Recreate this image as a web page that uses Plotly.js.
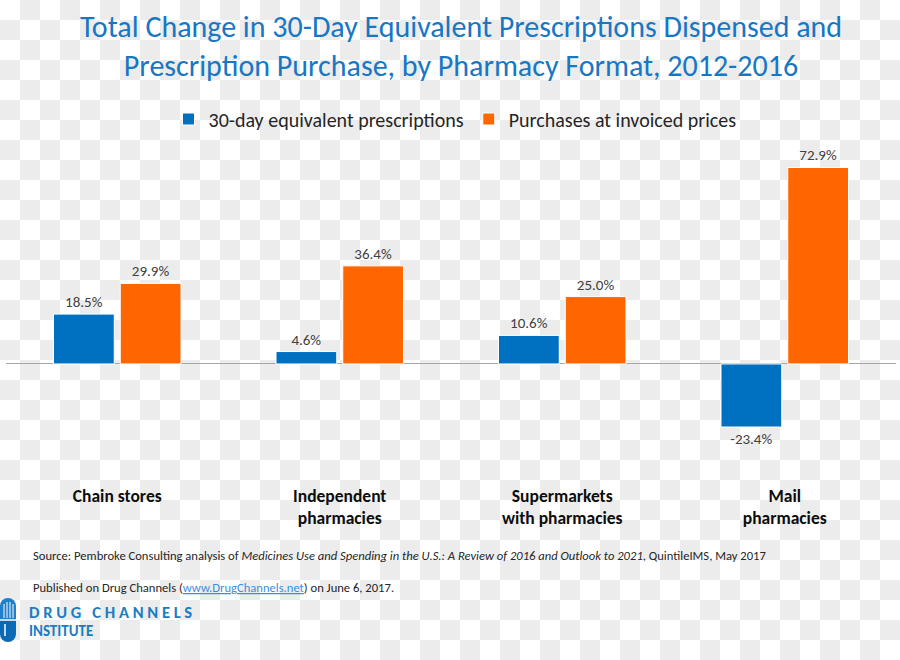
<!DOCTYPE html>
<html>
<head>
<meta charset="utf-8">
<script src="https://cdn.plot.ly/plotly-3.0.1.min.js"></script>
<style>
  html, body { margin: 0; padding: 0; }
  body {
    width: 900px; height: 660px; overflow: hidden;
    background: repeating-conic-gradient(#ececec 0% 25%, #ffffff 0% 50%) 0 0 / 40px 40px;
  }
  #chart { width: 900px; height: 660px; }
</style>
</head>
<body>
<div id="chart"></div>
<script>
// ---- data ----
const categories = ['Chain stores', 'Independent<br>pharmacies', 'Supermarkets<br>with pharmacies', 'Mail<br>pharmacies'];
const seriesNames = ['30-day equivalent prescriptions', 'Purchases at invoiced prices'];
const rxValues = [18.5, 4.6, 10.6, -23.4];
const purchaseValues = [29.9, 36.4, 25.0, 72.9];

const titleText = 'Total Change in 30-Day Equivalent Prescriptions Dispensed and<br>Prescription Purchase, by Pharmacy Format, 2012-2016';
const sourceText = 'Source: Pembroke Consulting analysis of <i>Medicines Use and Spending in the U.S.: A Review of 2016 and Outlook to 2021</i>, QuintileIMS, May 2017';
const publishedText = 'Published on Drug Channels (<a href="http://www.DrugChannels.net" style="color:#3b8fe0;text-decoration:underline">www.DrugChannels.net</a>) on June 6, 2017.';

// ---- layout helpers (pixel -> paper) ----
const L = 6, R = 896, T = 140, B = 475;
const px = p => (p - L) / (R - L);
const py = p => (B - p) / (B - T);

const FONT = 'Carlito, Lato, "Open Sans", sans-serif';
const BLUE = '#0070C0', ORANGE = '#FF6600';
const fmt = v => v.toFixed(1) + '%';

const traces = [
  {
    type: 'bar', name: seriesNames[0], x: categories, y: rxValues,
    marker: { color: BLUE, line: { color: '#ffffff', width: 1 } },
    text: rxValues.map(fmt), textposition: 'outside', cliponaxis: false,
    textfont: { family: FONT, size: 15, color: '#404040' }, hoverinfo: 'x+y'
  },
  {
    type: 'bar', name: seriesNames[1], x: categories, y: purchaseValues,
    marker: { color: ORANGE, line: { color: '#ffffff', width: 1 } },
    text: purchaseValues.map(fmt), textposition: 'outside', cliponaxis: false,
    textfont: { family: FONT, size: 15, color: '#404040' }, hoverinfo: 'x+y'
  }
];

const shapes = [
  // pill icon of the logo
  { type: 'circle', xref: 'paper', yref: 'paper', x0: px(0), x1: px(16), y0: py(614), y1: py(598), fillcolor: '#1f7fc8', line: { width: 0 } },
  { type: 'circle', xref: 'paper', yref: 'paper', x0: px(0), x1: px(16), y0: py(642), y1: py(626), fillcolor: '#0a6ab5', line: { width: 0 } },
  { type: 'rect', xref: 'paper', yref: 'paper', x0: px(0), x1: px(16), y0: py(620), y1: py(606), fillcolor: '#1f7fc8', line: { width: 0 } },
  { type: 'rect', xref: 'paper', yref: 'paper', x0: px(0), x1: px(16), y0: py(634), y1: py(620), fillcolor: '#0a6ab5', line: { width: 0 } },
  { type: 'line', xref: 'paper', yref: 'paper', x0: px(0), x1: px(16), y0: py(620), y1: py(620), line: { color: '#ffffff', width: 1.5 } },
  { type: 'line', xref: 'paper', yref: 'paper', x0: px(4), x1: px(4), y0: py(604), y1: py(618), line: { color: '#ffffff', width: 1 } },
  { type: 'line', xref: 'paper', yref: 'paper', x0: px(7), x1: px(7), y0: py(602), y1: py(618), line: { color: '#ffffff', width: 1 } },
  { type: 'line', xref: 'paper', yref: 'paper', x0: px(10), x1: px(10), y0: py(602), y1: py(618), line: { color: '#ffffff', width: 1 } },
  { type: 'line', xref: 'paper', yref: 'paper', x0: px(13), x1: px(13), y0: py(604), y1: py(618), line: { color: '#ffffff', width: 1 } },
  { type: 'line', xref: 'paper', yref: 'paper', x0: px(5), x1: px(5), y0: py(624), y1: py(636), line: { color: '#ffffff', width: 1.5 } }
];

const annotations = [
  { xref: 'paper', yref: 'paper', x: px(31), y: py(555), xanchor: 'left', yanchor: 'middle', showarrow: false,
    text: sourceText, font: { family: FONT, size: 12.6, color: '#262626' } },
  { xref: 'paper', yref: 'paper', x: px(31), y: py(587), xanchor: 'left', yanchor: 'middle', showarrow: false,
    text: publishedText, font: { family: FONT, size: 12.6, color: '#262626' } },
  { xref: 'paper', yref: 'paper', x: px(27), y: py(612), xanchor: 'left', yanchor: 'middle', showarrow: false,
    text: 'D R U G   C H A N N E L S', font: { family: FONT, size: 16.5, color: '#1a7cc1', weight: 'bold' } },
  { xref: 'paper', yref: 'paper', x: px(27), y: py(631), xanchor: 'left', yanchor: 'middle', showarrow: false,
    text: 'INSTITUTE', font: { family: FONT, size: 15, color: '#1a7cc1', weight: 'bold' } }
];

const layout = {
  width: 900, height: 660,
  paper_bgcolor: 'rgba(0,0,0,0)', plot_bgcolor: 'rgba(0,0,0,0)',
  margin: { l: L, r: 900 - R, t: T, b: 660 - B, pad: 0 },
  font: { family: FONT, color: '#262626' },
  title: {
    text: titleText, x: 461 / 900, xanchor: 'center', xref: 'container',
    y: 1 - 37 / 660, yanchor: 'middle', yref: 'container',
    font: { family: FONT, size: 30, color: '#1777c4' }
  },
  barmode: 'group', bargap: 0.40, bargroupgap: 0.09,
  showlegend: true,
  legend: {
    orientation: 'h', x: px(455), xanchor: 'center', y: py(119), yanchor: 'middle',
    font: { family: FONT, size: 20, color: '#262626' }, bgcolor: 'rgba(0,0,0,0)',
    itemclick: false, itemdoubleclick: false, traceorder: 'normal', itemwidth: 30
  },
  xaxis: {
    type: 'category', showgrid: false, zeroline: false, showline: false, ticks: '',
    tickfont: { family: FONT, size: 17.5, color: '#0d0d0d', weight: 'bold' },
    ticklabelstandoff: 8, fixedrange: true
  },
  yaxis: {
    range: [-41.2, 83.1], showgrid: false, showticklabels: false, ticks: '',
    zeroline: true, zerolinecolor: '#a6a6a6', zerolinewidth: 1, showline: false, fixedrange: true
  },
  shapes: shapes,
  annotations: annotations
};

Plotly.newPlot('chart', traces, layout, { displayModeBar: false, staticPlot: false });
</script>
</body>
</html>
